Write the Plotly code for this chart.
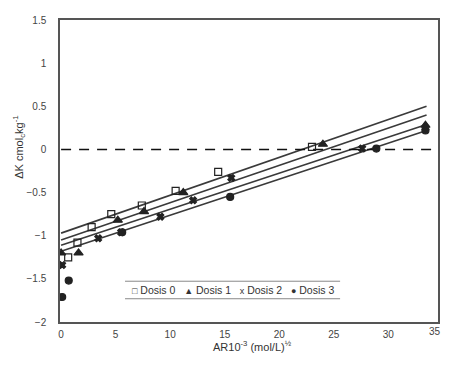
import plotly.graph_objects as go

# ---- data ----
d0_x = [0.65, 1.5, 2.8, 4.6, 7.4, 10.5, 14.4, 23.0]
d0_y = [-1.25, -1.08, -0.90, -0.75, -0.65, -0.48, -0.26, 0.03]

d1_x = [0.0, 1.6, 5.2, 7.6, 11.2, 24.0, 33.4]
d1_y = [-1.20, -1.20, -0.82, -0.72, -0.50, 0.06, 0.28]

d2_x = [0.1, 3.4, 5.5, 9.1, 12.1, 15.6, 27.6, 33.4]
d2_y = [-1.34, -1.03, -0.96, -0.78, -0.59, -0.33, 0.01, 0.25]

d3_x = [0.1, 0.7, 5.6, 15.5, 28.9, 33.4]
d3_y = [-1.71, -1.52, -0.96, -0.55, 0.01, 0.22]

# fitted lines: start and end points
fit_x = [0.0, 33.5]
fit0_y = [-0.97, 0.50]
fit1_y = [-1.05, 0.40]
fit2_y = [-1.11, 0.29]
fit3_y = [-1.18, 0.22]

ref_x = [0.0, 34.55]
ref_y = [0.0, 0.0]

names = ["Dosis 0", "Dosis 1", "Dosis 2", "Dosis 3"]
legend_glyphs = ["□", "▲", "x", "●"]
x_ticks = [0, 5, 10, 15, 20, 25, 30]
y_ticks = [-2, -1.5, -1, -0.5, 0, 0.5, 1, 1.5]

FONT = "Arial, Liberation Sans, sans-serif"
INK = "#222222"
LINE = "#3a3a3a"

fig = go.Figure()

for fy in [fit0_y, fit1_y, fit2_y, fit3_y]:
    fig.add_trace(go.Scatter(x=fit_x, y=fy, mode="lines",
                             line=dict(color=LINE, width=1.6),
                             showlegend=False, hoverinfo="skip"))

fig.add_trace(go.Scatter(x=ref_x, y=ref_y, mode="lines",
                         line=dict(color="#111111", width=1.6, dash="10px,8px"),
                         showlegend=False, hoverinfo="skip"))

series = [
    (d0_x, d0_y, "square-open", 7),
    (d1_x, d1_y, "triangle-up", 8),
    (d2_x, d2_y, "x", 6),
    (d3_x, d3_y, "circle", 7),
]
for (xs, ys, sym, sz), nm in zip(series, names):
    fig.add_trace(go.Scatter(x=xs, y=ys, mode="markers", name=nm, showlegend=False,
                             marker=dict(symbol=sym, size=sz, color=INK,
                                         line=dict(color=INK, width=1.2))))

legend_text = "&nbsp;&nbsp;&nbsp;".join(
    f"<span style='font-size:9px'>{g}</span> {n}" for g, n in zip(legend_glyphs, names)
)

# page body adds an 8px offset, so the figure is 8px smaller than the window
fig.update_layout(
    width=442, height=368,
    margin=dict(l=52, r=12, t=6, b=54),
    paper_bgcolor="white", plot_bgcolor="white",
    font=dict(family=FONT, size=10, color="#444444"),
    showlegend=False,
    xaxis=dict(range=[-0.1, 34.55], tickvals=x_ticks, showgrid=False, zeroline=False,
               showline=True, linecolor="#555555", linewidth=1.5, mirror=True,
               ticks="", tickfont=dict(size=10, color="#444444"), ticklabelstandoff=2),
    yaxis=dict(range=[-2, 1.5], tickvals=y_ticks, showgrid=False, zeroline=False,
               showline=True, linecolor="#555555", linewidth=1.5, mirror=True,
               ticks="", tickfont=dict(size=10, color="#444444"), ticklabelstandoff=10),
    shapes=[
        dict(type="line", xref="paper", yref="paper", x0=0.172, x1=0.741, y0=0.135, y1=0.135,
             line=dict(color="#888888", width=1)),
        dict(type="line", xref="paper", yref="paper", x0=0.172, x1=0.741, y0=0.077, y1=0.077,
             line=dict(color="#888888", width=1)),
    ],
    annotations=[
        dict(text=legend_text, x=0.458, xref="paper", y=0.105, yref="paper",
             xanchor="center", yanchor="middle", showarrow=False,
             font=dict(size=10.5, color="#333333")),
        dict(text="35", x=1.013, xref="paper", y=0, yref="paper", yanchor="top",
             showarrow=False, yshift=-2, font=dict(size=10, color="#444444")),
        dict(text="AR10<sup>-3</sup> (mol/L)<sup>½</sup>", x=0.508, xref="paper",
             y=-0.05, yref="paper", yanchor="top", showarrow=False,
             font=dict(size=11, color="#333333")),
        dict(text="ΔK cmol<sub>c</sub>kg<sup>-1</sup>", x=-0.135, xref="paper",
             y=0.58, yref="paper", textangle=-90, showarrow=False,
             font=dict(size=11, color="#333333")),
    ],
)

fig.write_html("out.html")
